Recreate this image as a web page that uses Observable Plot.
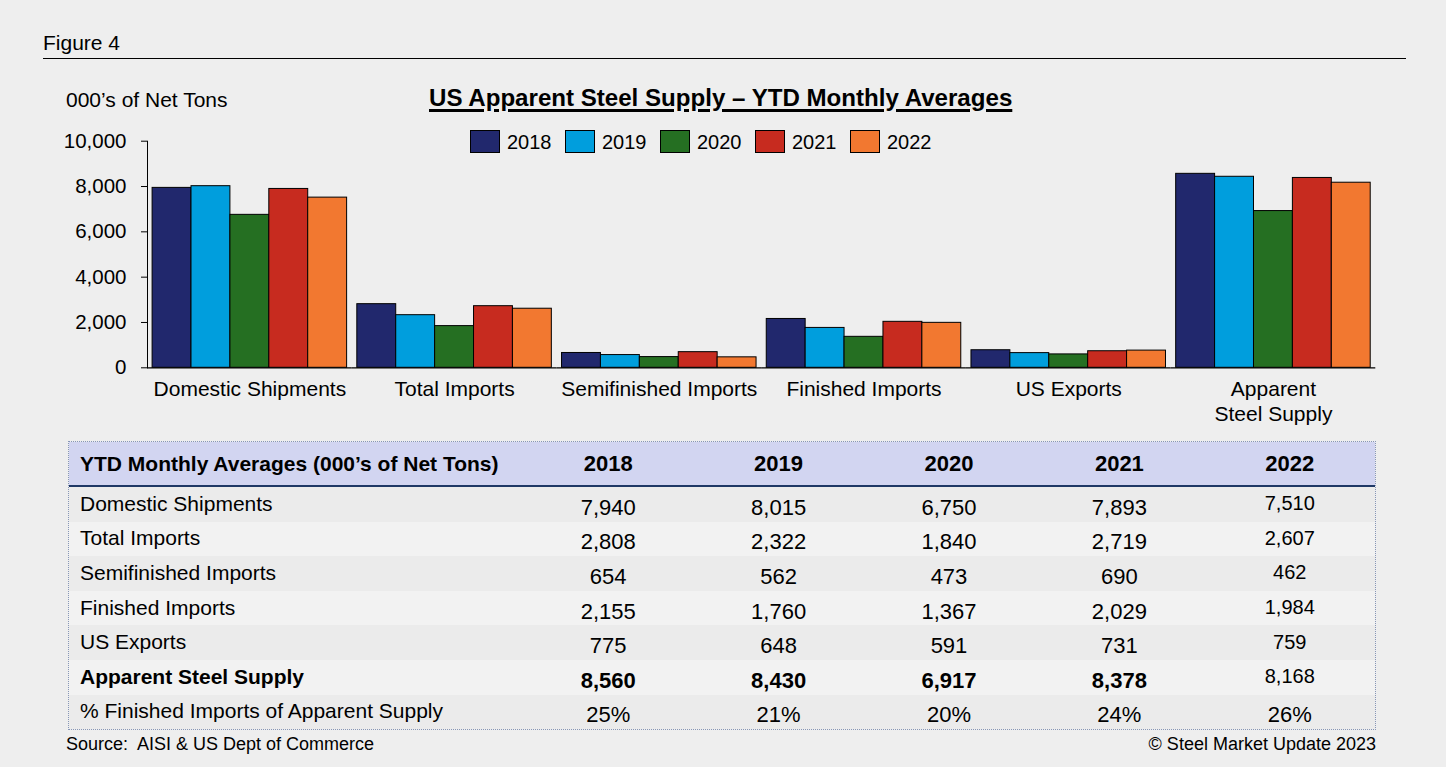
<!DOCTYPE html>
<html>
<head>
<meta charset="utf-8">
<script src="https://cdn.jsdelivr.net/npm/d3@7"></script>
<script src="https://cdn.jsdelivr.net/npm/@observablehq/plot@0.6"></script>
<style>
html, body { margin: 0; padding: 0; background: #eeeeee; }
#root { position: relative; width: 1446px; height: 767px; overflow: hidden;
  font-family: "Liberation Sans", Arial, Helvetica, sans-serif; color: #000; }
.abs { position: absolute; white-space: nowrap; line-height: 1; }
#figline { position: absolute; left: 43px; top: 57.5px; width: 1363px; height: 1.6px; background: #000; }
#title { font-weight: bold; font-size: 24.1px; text-decoration: underline; text-decoration-thickness: 2.5px; text-underline-offset: 3px; }
#legend { display: flex; align-items: center; }
.lg-item { display: flex; align-items: center; margin-right: 13.5px; font-size: 20px; }
.lg-sw { width: 28px; height: 21px; border: 1px solid #000; margin-right: 7px; }
#chart { position: absolute; left: 0; top: 120px; }
#tbl { position: absolute; left: 68px; top: 441px; width: 1308px; box-sizing: border-box;
  border: 1px dotted #8796b6; display: grid;
  grid-template-columns: 454px repeat(5, 1fr); grid-template-rows: 45px repeat(7, 34.6px); }
.cell { display: flex; align-items: center; box-sizing: border-box; white-space: nowrap; line-height: 1; }
.hd { background: #d2d5f1; border-bottom: 2px solid #1f3866; font-weight: bold; font-size: 21px; }
.lab { padding-left: 11px; font-size: 21px; }
.val { justify-content: center; font-size: 22px; }
.val span { position: relative; top: 3.5px; }
.hd span { position: relative; top: 0; }
.lab span { position: relative; top: -1px; }
.val.last { font-size: 20px; }
.val.last span { top: -1px; }
.hd.val span, .hd.lab span { top: 0; }
.r0 { background: #ebebeb; }
.r1 { background: #f2f2f2; }
.b { font-weight: bold; }
</style>
</head>
<body>
<div id="root"></div>
<script>
// ---------- data ----------
const years = ["2018", "2019", "2020", "2021", "2022"];
const yearColors = ["#21286d", "#009edd", "#256f22", "#c72b1f", "#f27830"];
const categories = ["Domestic Shipments", "Total Imports", "Semifinished Imports", "Finished Imports", "US Exports", "Apparent Steel Supply"];
const categoryTickLabels = ["Domestic Shipments", "Total Imports", "Semifinished Imports", "Finished Imports", "US Exports", "Apparent\nSteel Supply"];
const domesticShipments = [7940, 8015, 6750, 7893, 7510];
const totalImports = [2808, 2322, 1840, 2719, 2607];
const semifinishedImports = [654, 562, 473, 690, 462];
const finishedImports = [2155, 1760, 1367, 2029, 1984];
const usExports = [775, 648, 591, 731, 759];
const apparentSteelSupply = [8560, 8430, 6917, 8378, 8168];
const pctFinishedOfSupply = [25, 21, 20, 24, 26];
const yTicks = [0, 2000, 4000, 6000, 8000, 10000];
const pctRowLabel = "% Finished Imports of Apparent Supply";
const tableHeaderLabel = "YTD Monthly Averages (000\u2019s of Net Tons)";
const figureLabel = "Figure 4";
const chartTitle = "US Apparent Steel Supply \u2013 YTD Monthly Averages";
const yUnitLabel = "000\u2019s of Net Tons";
const sourceText = "Source:\u00a0 AISI & US Dept of Commerce";
const creditText = "\u00a9 Steel Market Update 2023";

// ---------- layout ----------
const root = document.getElementById("root");
function addText(id, text, css) {
  const d = document.createElement("div");
  d.className = "abs";
  if (id) d.id = id;
  d.textContent = text;
  Object.assign(d.style, css);
  root.appendChild(d);
  return d;
}
addText(null, figureLabel, {left: "43px", top: "32px", fontSize: "21px"});
const fl = document.createElement("div"); fl.id = "figline"; root.appendChild(fl);
addText(null, yUnitLabel, {left: "66px", top: "89px", fontSize: "21px"});
addText("title", chartTitle, {left: "429px", top: "85.5px"});

// legend
const legend = document.createElement("div");
legend.id = "legend"; legend.className = "abs";
Object.assign(legend.style, {left: "470px", top: "130px"});
years.forEach((y, i) => {
  const it = document.createElement("div"); it.className = "lg-item";
  const sw = document.createElement("div"); sw.className = "lg-sw"; sw.style.background = yearColors[i];
  const tx = document.createElement("span"); tx.textContent = y;
  it.appendChild(sw); it.appendChild(tx); legend.appendChild(it);
});
root.appendChild(legend);

// ---------- chart ----------
const series = [domesticShipments, totalImports, semifinishedImports, finishedImports, usExports, apparentSteelSupply];
const barData = categories.flatMap((c, i) => years.map((y, j) => ({category: c, year: y, value: series[i][j]})));
const fmt = d3.format(",");

const chart = Plot.plot({
  width: 1446,
  height: 320,
  marginTop: 20.7,
  marginBottom: 72.7,
  marginLeft: 147,
  marginRight: 70.7,
  style: {background: "transparent", fontFamily: "'Liberation Sans', Arial, Helvetica, sans-serif", fontSize: "20.5px", color: "#000", overflow: "visible"},
  fx: {domain: categories, padding: 0, round: false, label: null},
  x: {domain: years, padding: 0, round: false, insetLeft: 5.1, insetRight: 5.1, axis: null},
  y: {domain: [0, 10000], ticks: yTicks, tickFormat: (d) => fmt(d), tickSize: 6, tickPadding: 15, line: true, label: null},
  color: {domain: years, range: yearColors},
  marks: [
    Plot.barY(barData, {fx: "category", x: "year", y: "value", fill: "year", stroke: "#000", strokeWidth: 1}),
    Plot.ruleY([0], {stroke: "#000", strokeWidth: 1.3}),
    Plot.axisFx({anchor: "bottom", tickSize: 0, tickPadding: 11, fontSize: 21, lineHeight: 1.18, label: null,
      tickFormat: (d) => categoryTickLabels[categories.indexOf(d)]})
  ]
});
chart.id = "chart";
root.appendChild(chart);

// ---------- table ----------
const tbl = document.createElement("div"); tbl.id = "tbl";
function cell(cls, text) {
  const c = document.createElement("div"); c.className = "cell " + cls;
  const s = document.createElement("span"); s.textContent = text; c.appendChild(s);
  tbl.appendChild(c);
}
cell("hd lab", tableHeaderLabel);
years.forEach(y => cell("hd val", y));
const tableRows = categories.map((c, i) => ({label: c, values: series[i], bold: i === categories.length - 1}))
  .concat([{label: pctRowLabel, values: pctFinishedOfSupply, pct: true}]);
tableRows.forEach((r, i) => {
  const band = i % 2 === 0 ? "r0" : "r1";
  cell("lab " + band + (r.bold ? " b" : ""), r.label);
  r.values.forEach((v, j) => {
    const last = j === years.length - 1 && !r.pct;
    cell("val " + band + (last ? " last" : "") + (r.bold && j < years.length - 1 ? " b" : ""), r.pct ? v + "%" : fmt(v));
  });
});
root.appendChild(tbl);

// ---------- footer ----------
addText(null, sourceText, {left: "66px", top: "735px", fontSize: "18px"});
const cr = addText(null, creditText, {top: "735px", fontSize: "18px"});
cr.style.right = (1446 - 1376) + "px";
</script>
</body>
</html>
